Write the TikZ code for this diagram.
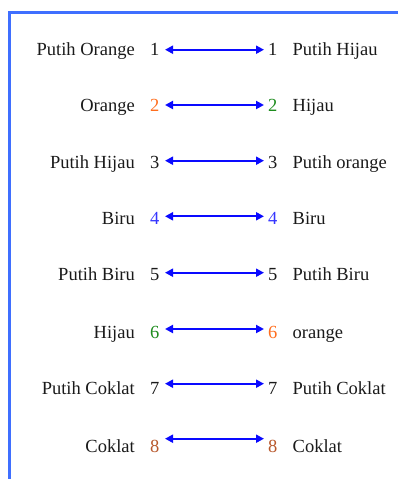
\documentclass[tikz,border=0pt]{standalone}
\usepackage{fontspec}
\setmainfont{Liberation Serif}
\usetikzlibrary{arrows.meta}
\definecolor{framec}{HTML}{3F6FFF}
\definecolor{arrc}{HTML}{0A0AFF}
\definecolor{txt}{HTML}{1A1A1A}
\definecolor{orng}{HTML}{FF6E1E}
\definecolor{grn}{HTML}{1E8C1E}
\definecolor{blu}{HTML}{3535FF}
\definecolor{brn}{HTML}{B8582C}
\tikzset{
  lbl/.style={inner sep=0pt, text=txt, font=\fontsize{18.5}{22}\selectfont},
  leftlbl/.style={lbl, anchor=base east},
  rightlbl/.style={lbl, anchor=base west},
  arr/.style={arrc, line width=2pt, {Triangle[length=8pt,width=8pt]}-{Triangle[length=8pt,width=8pt]}},
  frame/.style={framec, line width=3.5pt}
}
\begin{document}
\begin{tikzpicture}[x=1pt,y=-1pt]
\useasboundingbox (0,0) rectangle (398,479);
\coordinate (fa) at (9.5,479);
\coordinate (fb) at (9.5,12.5);
\coordinate (fc) at (398,12.5);
\draw[frame] (fa) -- (fb) -- (fc);
\foreach \i/\bl/\ay/\ltxt/\rtxt/\lc/\rc/\d in {
  1/55.7/49.7/Putih Orange/Putih Hijau/txt/txt/1,
  2/111.7/105/Orange/Hijau/orng/grn/2,
  3/168.7/160.7/Putih Hijau/Putih orange/txt/txt/3,
  4/224.7/216.3/Biru/Biru/blu/blu/4,
  5/280.7/272.7/Putih Biru/Putih Biru/txt/txt/5,
  6/338.3/329/Hijau/orange/grn/orng/6,
  7/394.7/383.7/Putih Coklat/Putih Coklat/txt/txt/7,
  8/452/438.7/Coklat/Coklat/brn/brn/8}{
  \node[leftlbl] (L\i) at (135,\bl) {\ltxt};
  \node[leftlbl, text=\lc] (dl\i) at (159.5,\bl) {\d};
  \node[rightlbl, text=\rc] (dr\i) at (268,\bl) {\d};
  \node[rightlbl] (R\i) at (292.5,\bl) {\rtxt};
  \coordinate (al\i) at (165,\ay);
  \coordinate (ar\i) at (264,\ay);
  \draw[arr] (al\i) -- (ar\i);
}
\end{tikzpicture}
\end{document}
